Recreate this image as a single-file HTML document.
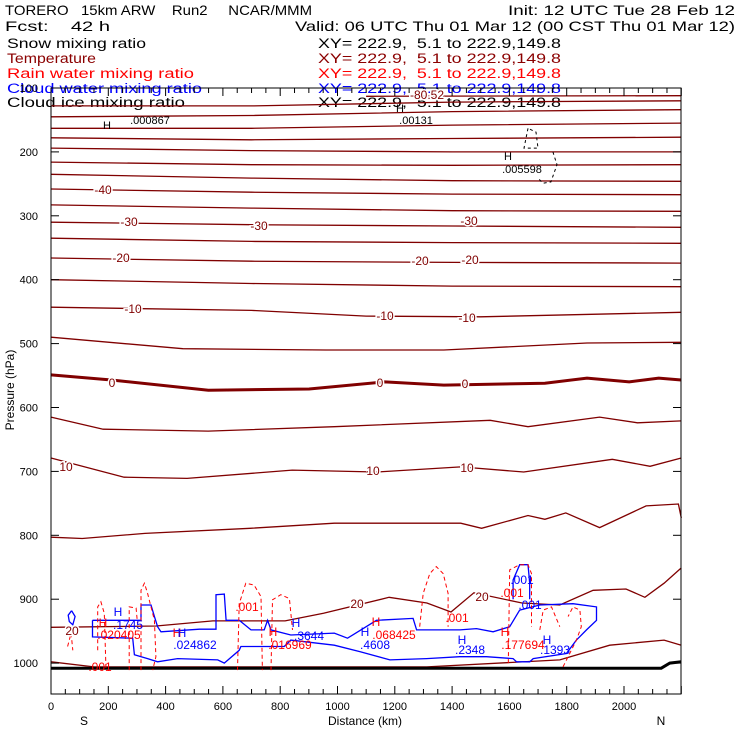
<!DOCTYPE html>
<html><head><meta charset="utf-8">
<style>
html,body{margin:0;padding:0;background:#fff;}
svg{display:block;font-family:"Liberation Sans",sans-serif;}
text{white-space:pre;}
.lbl{paint-order:stroke;stroke:#fff;stroke-width:3px;}
</style></head>
<body>
<svg id="chart" width="740" height="740" viewBox="0 0 740 740">
<rect x="0" y="0" width="740" height="740" fill="#fff"/>
<g font-size="14" fill="#000">
<text x="5" y="15" textLength="307" lengthAdjust="spacingAndGlyphs">TORERO   15km ARW    Run2     NCAR/MMM</text>
<text x="508" y="15" textLength="227" lengthAdjust="spacingAndGlyphs">Init: 12 UTC Tue 28 Feb 12</text>
<text x="5" y="31" textLength="105" lengthAdjust="spacingAndGlyphs">Fcst:    42 h</text>
<text x="295" y="31" textLength="440" lengthAdjust="spacingAndGlyphs">Valid: 06 UTC Thu 01 Mar 12 (00 CST Thu 01 Mar 12)</text>
</g>
<g font-size="13.5">
<text x="7" y="48" fill="#000" textLength="139" lengthAdjust="spacingAndGlyphs">Snow mixing ratio</text>
<text x="318" y="48" fill="#000" textLength="243" lengthAdjust="spacingAndGlyphs">XY= 222.9,  5.1 to 222.9,149.8</text>
<text x="7" y="63" fill="#8b0000" textLength="89" lengthAdjust="spacingAndGlyphs">Temperature</text>
<text x="318" y="63" fill="#8b0000" textLength="243" lengthAdjust="spacingAndGlyphs">XY= 222.9,  5.1 to 222.9,149.8</text>
<text x="7" y="78" fill="#ff0000" textLength="187" lengthAdjust="spacingAndGlyphs">Rain water mixing ratio</text>
<text x="318" y="78" fill="#ff0000" textLength="243" lengthAdjust="spacingAndGlyphs">XY= 222.9,  5.1 to 222.9,149.8</text>
<text x="7" y="93" fill="#0000ff" textLength="195" lengthAdjust="spacingAndGlyphs">Cloud water mixing ratio</text>
<text x="318" y="93" fill="#0000ff" textLength="243" lengthAdjust="spacingAndGlyphs">XY= 222.9,  5.1 to 222.9,149.8</text>
<text x="7" y="107" fill="#000" textLength="178" lengthAdjust="spacingAndGlyphs">Cloud ice mixing ratio</text>
<text x="318" y="107" fill="#000" textLength="243" lengthAdjust="spacingAndGlyphs">XY= 222.9,  5.1 to 222.9,149.8</text>
</g>
<g id="plot"></g>
<g id="labels" font-size="11"></g>
<text x="14" y="390" font-size="12" text-anchor="middle" transform="rotate(-90 14 390)">Pressure (hPa)</text>
<text x="365" y="725" font-size="12" text-anchor="middle">Distance (km)</text>
<text x="84" y="725" font-size="12" text-anchor="middle">S</text>
<text x="661" y="725" font-size="12" text-anchor="middle">N</text>
</svg>
<script>
const yTicks = [100,200,300,400,500,600,700,800,900,1000];
const xTicks = [0,200,400,600,800,1000,1200,1400,1600,1800,2000];
// isotherms: [km, hPa] pairs
const isoTop = [[1100,113],[2200,112]];
const iso_b = [[0,128],[700,128],[1400,122],[2200,120]];
const iso_c = [[0,145],[700,143],[1400,137],[2200,134]];
const iso_d = [[0,163],[700,163],[1400,158],[2200,155]];
const iso_e = [[0,178],[700,181],[1400,179],[2200,177]];
const iso_f = [[0,194],[700,198],[1400,200],[2200,200]];
const iso_g = [[0,216],[700,220],[1400,221],[2200,220]];
const iso_h = [[0,235],[700,241],[1400,245],[2200,246]];
const iso_m40 = [[0,258],[700,263],[1400,266],[2200,267]];
const iso_j = [[0,283],[700,288],[1400,292],[2200,293]];
const iso_m30 = [[0,310],[700,314],[1400,316],[2200,318]];
const iso_l = [[0,335],[700,340],[1400,342],[2200,343]];
const iso_m20 = [[0,366],[700,371],[1400,373],[2200,374]];
const iso_n = [[0,400],[700,406],[1400,410],[2200,411]];
const iso_m10 = [[0,443],[700,448],[1100,457],[1500,458],[2200,451]];
const iso_m5 = [[0,490],[460,508],[960,510],[1371,510],[1871,499],[2200,498]];
const iso_0 = [[0,549],[211,557],[549,573],[901,571],[1165,560],[1371,565],[1724,562],[1871,554],[2018,560],[2121,554],[2200,557]];
const iso_5 = [[0,615],[182,634],[549,637],[989,630],[1533,620],[1665,630],[1915,615],[2047,624],[2200,621]];
const iso_10 = [[0,679],[255,709],[475,711],[842,698],[1136,701],[1430,693],[1650,701],[1959,681],[2091,692],[2200,679]];
const iso_15 = [[0,803],[109,805],[328,797],[695,789],[989,781],[1430,781],[1503,789],[1665,769],[1724,775],[1797,765],[1915,788],[2077,754],[2190,751],[2200,773]];
const iso_20 = [[0,944],[367,942],[565,934],[817,934],[951,922],[1180,897],[1312,906],[1396,920],[1476,890],[1644,906],[1776,909],[1892,886],[2007,884],[2073,897],[2140,875],[2200,851]];
const iso_25 = [[0,998],[150,1006],[1312,1006],[1776,995],[1950,972],[2140,964],[2200,972]];
const ground = [[0,1008],[1240,1008],[2130,1008],[2160,1000],[2200,998]];
// cloud water (blue)
const cloudMain = [[145,933],[145,959],[285,961],[291,987],[337,993],[372,998],[442,993],[582,995],[605,1000],[657,980],[663,974],[814,974],[837,964],[989,972],[1078,982],[1183,995],[1311,993],[1427,990],[1520,990],[1613,993],[1625,998],[1671,998],[1683,993],[1799,985],[1834,964],[1869,948],[1904,933],[1904,912],[1822,907],[1706,909],[1636,917],[1601,943],[1543,951],[1485,946],[1427,948],[1276,948],[1264,930],[1136,933],[1035,961],[989,953],[837,956],[768,948],[756,933],[744,948],[698,948],[657,933],[611,933],[605,892],[576,893],[576,947],[518,947],[384,951],[372,943],[361,927],[349,909],[314,909],[314,933],[145,933]];
const cloudSmall = [[72,918],[84,927],[76,940],[64,935],[60,925],[72,918]];
const cloudPeak = [[1613,900],[1613,870],[1636,846],[1665,846],[1671,875],[1671,900]];
// rain water (red dashed)
const rain1 = [[314,1011],[314,886],[326,875],[337,891],[349,912],[361,933],[366,990],[355,1011]];
const rain2 = [[163,980],[163,912],[174,904],[186,922],[192,1011]];
const rain3 = [[651,1011],[657,907],[680,875],[709,878],[733,896],[738,1011]];
const rain4 = [[768,1011],[773,901],[802,893],[832,899],[843,948]];
const rain5 = [[273,1011],[273,912],[297,914],[302,938]];
const rain6 = [[1287,943],[1299,891],[1322,860],[1345,849],[1369,860],[1386,891],[1386,943]];
const rain7 = [[1596,1000],[1601,854],[1636,846],[1665,846],[1677,860],[1677,943]];
const rain8 = [[1787,1006],[1834,964],[1851,943],[1846,917],[1822,912],[1805,927]];
const rain9 = [[1706,948],[1718,917],[1747,912],[1776,943]];
const rain10 = [[58,974],[70,953],[76,980]];
// cloud ice (black dashed)
const ice1 = [[1665,163],[1651,194],[1700,194],[1693,169],[1665,163]];
const ice2 = [[1752,200],[1766,220],[1745,247],[1717,249],[1700,241]];

const X0=51, X1=681, Y0=88, Y1=694;
function xOf(km){ return X0 + km*0.2865; }
function yOf(p){ return Y0 + (p-100)*0.639; }
const NS='http://www.w3.org/2000/svg';
const plot=document.getElementById('plot');
const labels=document.getElementById('labels');
function pts(a){ return a.map(d=>xOf(d[0]).toFixed(1)+','+yOf(d[1]).toFixed(1)).join(' '); }
function line(arr,color,w,dash,name){
  const el=document.createElementNS(NS,'polyline');
  el.setAttribute('points',pts(arr));
  el.setAttribute('fill','none');
  el.setAttribute('stroke',color);
  el.setAttribute('stroke-width',w);
  if(dash) el.setAttribute('stroke-dasharray',dash);
  
  
  plot.appendChild(el);
}
const isoList=[isoTop,iso_b,iso_c,iso_d,iso_e,iso_f,iso_g,iso_h,iso_m40,iso_j,iso_m30,iso_l,iso_m20,iso_n,iso_m10,iso_m5,iso_5,iso_10,iso_15,iso_20,iso_25];
isoList.forEach(a=>line(a,'#800000',1.3,null,'isotherm'));
line(iso_0,'#800000',3,null,'isotherm-zero');
line(ground,'#000',3,null,'ground-surface');
line(cloudMain,'#0000ff',1.3,null,'cloud-water-contour');
line(cloudSmall,'#0000ff',1.3,null,'cloud-water-contour');
line(cloudPeak,'#0000ff',1.3,null,'cloud-water-contour');
[rain1,rain2,rain3,rain4,rain5,rain6,rain7,rain8,rain9,rain10].forEach(a=>line(a,'#ff0000',1,'4,3','rain-water-contour'));
line(ice1,'#000',1,'3,3','cloud-ice-contour');
line(ice2,'#000',1,'3,3','cloud-ice-contour');

const fr=document.createElementNS(NS,'rect');
fr.setAttribute('x',X0);fr.setAttribute('y',Y0);fr.setAttribute('width',X1-X0);fr.setAttribute('height',Y1-Y0);
fr.setAttribute('fill','none');fr.setAttribute('stroke','#000');fr.setAttribute('stroke-width',1);


plot.appendChild(fr);
function seg(x1,y1,x2,y2,name){
  const l=document.createElementNS(NS,'line');
  l.setAttribute('x1',x1);l.setAttribute('y1',y1);l.setAttribute('x2',x2);l.setAttribute('y2',y2);
  l.setAttribute('stroke','#000');l.setAttribute('stroke-width',1);
  
  
  plot.appendChild(l);
}
function txt(x,y,s,color,anchor,name,size,cls){
  const t=document.createElementNS(NS,'text');
  t.setAttribute('x',x);t.setAttribute('y',y);t.setAttribute('fill',color);
  t.setAttribute('text-anchor',anchor||'start');
  if(size) t.setAttribute('font-size',size);
  if(cls) t.setAttribute('class',cls);
  t.textContent=s;
  
  
  labels.appendChild(t);
}
yTicks.forEach(p=>{
  const y=yOf(p);
  seg(X0,y,X0+8,y,'y-tick');
  seg(X1-8,y,X1,y,'y-tick-right');
  txt(38,y+4,String(p),'#000','end','y-tick-label',11);
});
for(let km=0;km<=2200;km+=50){
  const major=km%200===0, x=xOf(km);
  seg(x,Y1,x,Y1-(major?8:5),'x-tick');
  seg(x,Y0,x,Y0+(major?8:5),'x-tick-top');
}
xTicks.forEach(km=>txt(xOf(km),710,String(km),'#000','middle','x-tick-label',11));

const DR='#800000';
[[72,635,'20'],[357,608,'20'],[482,601,'20'],[66,471,'10'],[373,475,'10'],[467,472,'10'],
 [112,387,'0'],[380,387,'0'],[465,388,'0'],[133,313,'-10'],[385,320,'-10'],[467,322,'-10'],
 [121,262,'-20'],[420,265,'-20'],[470,264,'-20'],[129,226,'-30'],[259,230,'-30'],[469,225,'-30'],
 [103,194,'-40'],[427,99,'-80.52']].forEach(d=>txt(d[0],d[1],d[2],DR,'middle','temperature-label',12,'lbl'));
[[103,627,'H'],[119,639,'.020405'],[177,637,'H'],[273,636,'H'],[290,649,'.016969'],[247,611,'.001'],[100,671,'.001'],
 [376,626,'H'],[394,639,'.068425'],[457,622,'.001'],[505,636,'H'],[523,649,'.177694'],[512,597,'.001']
].forEach(d=>txt(d[0],d[1],d[2],'#ff0000','middle','rain-label',12));
[[118,616,'H'],[128,629,'.1745'],[182,637,'H'],[195,649,'.024862'],[296,627,'H'],[309,640,'.3644'],
 [365,636,'H'],[375,649,'.4608'],[462,644,'H'],[470,654,'.2348'],[522,584,'.001'],[530,609,'.001'],[547,644,'H'],[555,654,'.1393']
].forEach(d=>txt(d[0],d[1],d[2],'#0000ff','middle','cloud-water-label',12));
[[107,129,'H'],[150,124,'.000867'],[400,112,'H'],[416,124,'.00131'],[508,160,'H'],[522,173,'.005598']
].forEach(d=>txt(d[0],d[1],d[2],'#000','middle','cloud-ice-label',11));
</script>
</body></html>
